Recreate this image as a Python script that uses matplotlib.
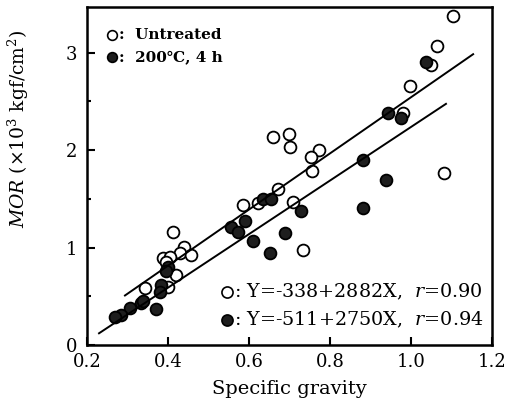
import matplotlib
matplotlib.use("Agg")
import matplotlib.pyplot as plt
import numpy as np
from matplotlib.ticker import MultipleLocator

plt.rcParams["font.family"] = "DejaVu Serif"
plt.rcParams["mathtext.fontset"] = "dejavuserif"

# Untreated specimens
sg_untreated = [1.104, 1.064, 1.049, 0.997, 0.980, 1.081, 0.659, 0.699, 0.700,
                0.773, 0.753, 0.755, 0.672, 0.709, 0.585, 0.622, 0.733, 0.412,
                0.440, 0.430, 0.457, 0.388, 0.405, 0.420, 0.343, 0.400, 0.395]
mor_untreated = [3.38, 3.07, 2.87, 2.66, 2.38, 1.77, 2.14, 2.17, 2.03,
                 2.00, 1.93, 1.79, 1.60, 1.47, 1.44, 1.46, 0.98, 1.16,
                 1.01, 0.95, 0.92, 0.89, 0.90, 0.72, 0.59, 0.60, 0.85]

# Heat-treated specimens (200 °C, 4 h)
sg_treated = [1.037, 0.943, 0.975, 0.881, 0.938, 0.881, 0.728, 0.635, 0.654,
              0.689, 0.652, 0.556, 0.573, 0.590, 0.610, 0.400, 0.395, 0.383,
              0.380, 0.333, 0.370, 0.306, 0.285, 0.270, 0.338]
mor_treated = [2.91, 2.38, 2.33, 1.90, 1.69, 1.41, 1.38, 1.50, 1.50,
               1.15, 0.95, 1.21, 1.16, 1.27, 1.07, 0.80, 0.76, 0.62,
               0.55, 0.43, 0.37, 0.38, 0.31, 0.29, 0.45]

# Regression fits (kgf/cm2): Y = a + bX, with correlation r and fitted range
fit_untreated = (-338, 2882, 0.90, (0.294, 1.153))
fit_treated = (-511, 2750, 0.94, (0.230, 1.086))

fig = plt.figure(figsize=(5.17, 4.07), dpi=100)
ax = fig.add_axes([0.168, 0.152, 0.784, 0.831])

mk = dict(marker="o", markersize=8.5, linestyle="none", markeredgewidth=1.3)
ax.plot(sg_untreated, mor_untreated, markerfacecolor="white",
        markeredgecolor="black", **mk)
ax.plot(sg_treated, mor_treated, markerfacecolor="#1e1e1e",
        markeredgecolor="black", **mk)

for a, b, r, (x0, x1) in (fit_untreated, fit_treated):
    xs = np.array([x0, x1])
    ax.plot(xs, (a + b * xs) / 1000.0, color="black", lw=1.4)

ax.set_xlim(0.2, 1.2)
ax.set_ylim(0, 3.47)
ax.xaxis.set_major_locator(MultipleLocator(0.2))
ax.yaxis.set_major_locator(MultipleLocator(1))
ax.yaxis.set_minor_locator(MultipleLocator(0.5))
ax.xaxis.set_major_formatter(matplotlib.ticker.FormatStrFormatter("%.1f"))
ax.tick_params(which="both", direction="in", labelsize=13, width=1.5)
ax.tick_params(which="major", length=6)
ax.tick_params(which="minor", length=3)
ax.tick_params(axis="x", pad=6)
ax.tick_params(axis="y", pad=7)
for s in ax.spines.values():
    s.set_linewidth(1.8)

ax.set_xlabel("Specific gravity", fontsize=14, labelpad=6)
ax.set_ylabel(r"$MOR$ $(\times10^3$ kgf/cm$^2)$", fontsize=13.5)
ax.yaxis.set_label_coords(-0.138, 0.64)

# Legend (top-left)
leg_items = [("white", "Untreated", 0.917), ("#1e1e1e", "200\u2103, 4 h", 0.852)]
for fc, label, y in leg_items:
    ax.plot([0.062], [y], transform=ax.transAxes, marker="o", markersize=7,
            markerfacecolor=fc, markeredgecolor="black", markeredgewidth=1.2,
            clip_on=False)
    ax.text(0.08, y, ":  " + label, transform=ax.transAxes, fontsize=11,
            fontweight="bold", va="center", ha="left")

# Regression equations (bottom-right)
for fc, (a, b, r, _), y in (("white", fit_untreated, 0.157),
                            ("#1e1e1e", fit_treated, 0.074)):
    ax.plot([0.346], [y], transform=ax.transAxes, marker="o", markersize=8,
            markerfacecolor=fc, markeredgecolor="black", markeredgewidth=1.2,
            clip_on=False)
    ax.text(0.364, y, f": Y={a}+{b}X,  $r$={r:.2f}",
            transform=ax.transAxes, fontsize=13.8, va="center", ha="left")

fig.savefig("out.png", dpi=100)
